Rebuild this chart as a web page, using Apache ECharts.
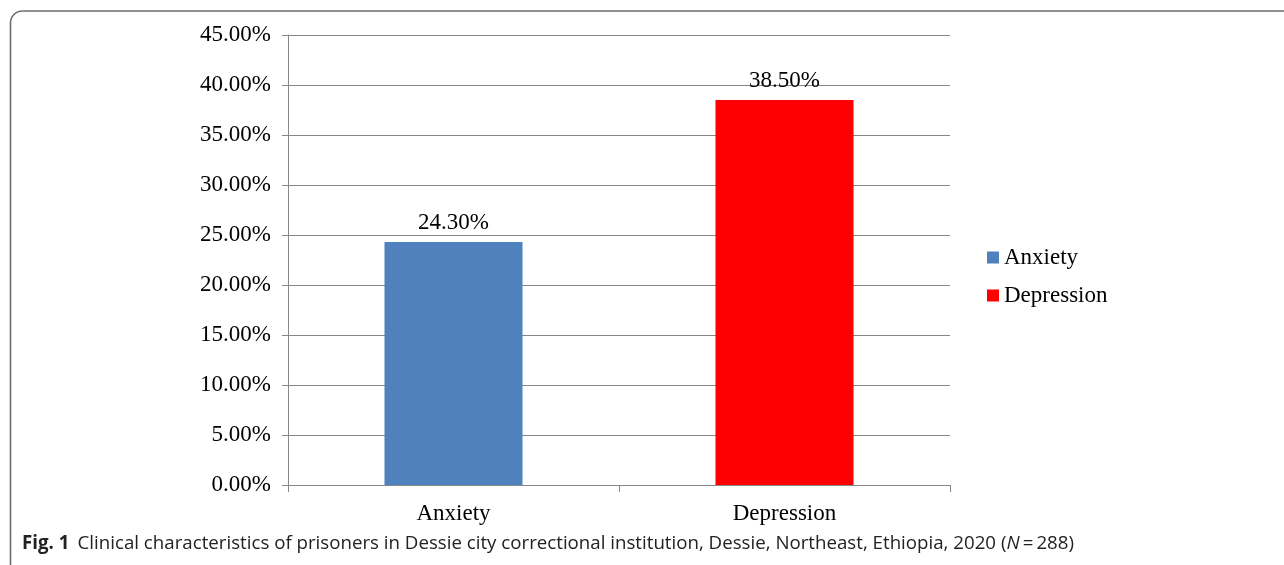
<!DOCTYPE html>
<html>
<head>
<meta charset="utf-8">
<script src="https://cdn.jsdelivr.net/npm/echarts@6/dist/echarts.min.js"></script>
<style>
  html, body { margin: 0; padding: 0; background: #fff; }
  #chart { width: 1284px; height: 565px; }
</style>
</head>
<body>
<div id="chart"></div>
<script>
// Prevalence of anxiety and depression among prisoners (%)
const categories = ['Anxiety', 'Depression'];
const seriesNames = ['Anxiety', 'Depression'];
const anxietyValues = [24.3, null];
const depressionValues = [null, 38.5];
const seriesColors = ['#4F81BD', '#FF0000'];
const yTicks = { min: 0, max: 45, interval: 5 };

const serif = '"Liberation Serif", "Times New Roman", serif';
const sans = '"Open Sans", "Noto Sans", sans-serif';
const fontSize = 23;
const captionSize = 18.7;
const gridColor = '#878787';
const frameStyle = { stroke: '#6b6b6b', lineWidth: 1.6, fill: 'none' };

const chart = echarts.init(document.getElementById('chart'), null, { renderer: 'canvas' });

const pctLabel = {
  show: true,
  position: 'top',
  distance: 8,
  fontFamily: serif,
  fontSize: fontSize,
  color: '#000',
  formatter: p => p.value == null ? '' : p.value.toFixed(2) + '%'
};

chart.setOption({
  animation: false,
  grid: { left: 288, right: 334, top: 35, bottom: 80 },
  legend: {
    orient: 'vertical',
    left: 982,
    top: 241,
    itemWidth: 12,
    itemHeight: 12,
    itemGap: 15,
    icon: 'rect',
    textStyle: { fontFamily: serif, fontSize: fontSize, color: '#000' },
    data: seriesNames
  },
  xAxis: {
    type: 'category',
    data: categories,
    axisLine: { lineStyle: { color: gridColor, width: 1 } },
    axisTick: { show: true, length: 7, lineStyle: { color: gridColor } },
    axisLabel: { margin: 17, fontFamily: serif, fontSize: fontSize, color: '#000' }
  },
  yAxis: {
    type: 'value',
    min: yTicks.min,
    max: yTicks.max,
    interval: yTicks.interval,
    axisLine: { show: true, lineStyle: { color: gridColor, width: 1 } },
    axisTick: { show: true, length: 6, lineStyle: { color: gridColor } },
    splitLine: { lineStyle: { color: gridColor, width: 1 } },
    axisLabel: {
      margin: 17,
      padding: [5, 0, 0, 0],
      fontFamily: serif,
      fontSize: fontSize,
      color: '#000',
      formatter: v => v.toFixed(2) + '%'
    }
  },
  series: [
    {
      name: seriesNames[0],
      type: 'bar',
      stack: 'all',
      barWidth: '41.7%',
      data: anxietyValues,
      itemStyle: { color: seriesColors[0] },
      label: pctLabel
    },
    {
      name: seriesNames[1],
      type: 'bar',
      stack: 'all',
      barWidth: '41.7%',
      data: depressionValues,
      itemStyle: { color: seriesColors[1] },
      label: pctLabel
    }
  ],
  graphic: [
    // figure frame: left edge, rounded top-left corner, top edge
    {
      type: 'line',
      shape: { x1: 10.5, y1: 565, x2: 10.5, y2: 23 },
      style: frameStyle,
      silent: true
    },
    {
      type: 'arc',
      shape: { cx: 22.5, cy: 23, r: 12, startAngle: Math.PI, endAngle: Math.PI * 1.5, clockwise: true },
      style: frameStyle,
      silent: true
    },
    {
      type: 'line',
      shape: { x1: 22.5, y1: 11, x2: 1284, y2: 11 },
      style: frameStyle,
      silent: true
    },
    {
      type: 'text',
      left: 22,
      top: 534,
      style: {
        text: '{b|Fig. 1} {n| Clinical characteristics of prisoners in Dessie city correctional institution, Dessie, Northeast, Ethiopia, 2020 (}{i|N}{n|\u2009=\u2009288)}',
        rich: {
          b: { fontFamily: sans, fontWeight: 'bold', fontSize: captionSize, fill: '#222' },
          n: { fontFamily: sans, fontSize: captionSize, fill: '#222' },
          i: { fontFamily: sans, fontStyle: 'italic', fontSize: captionSize, fill: '#222' }
        }
      },
      silent: true
    }
  ]
});
</script>
</body>
</html>
